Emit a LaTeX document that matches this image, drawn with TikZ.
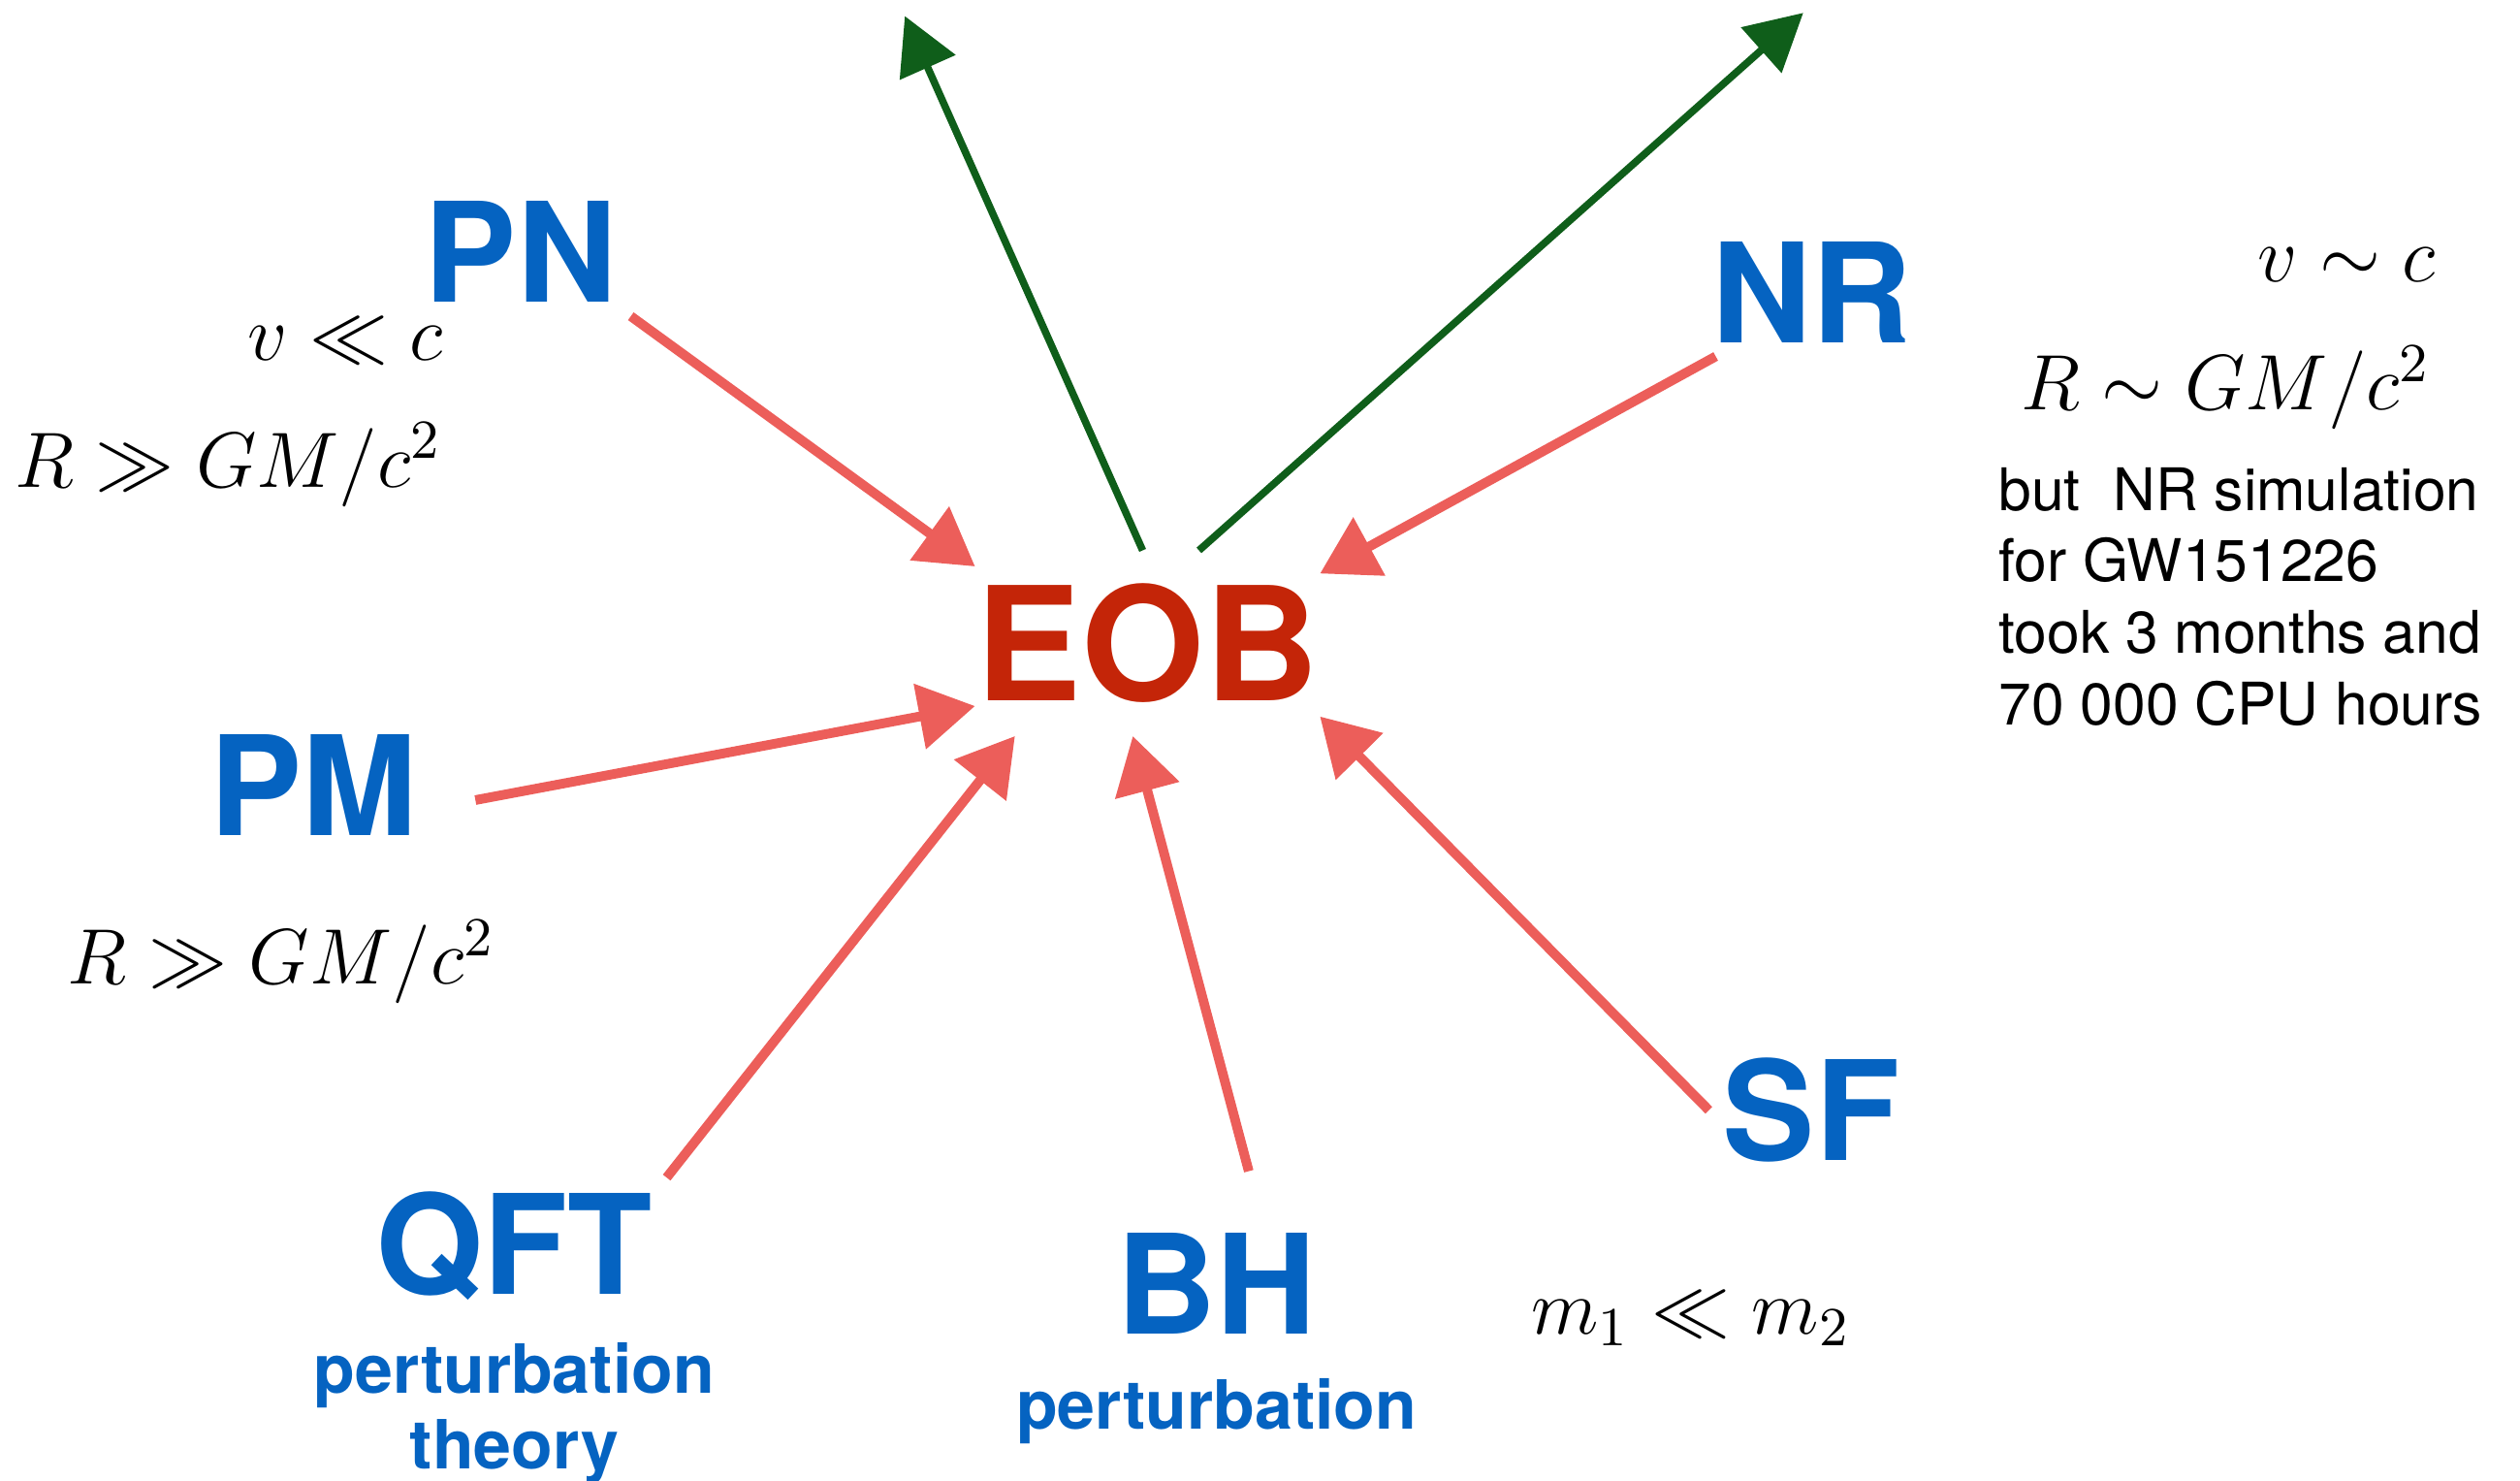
\RequirePackage{fix-cm}
\documentclass[tikz,border=0pt]{standalone}
\usepackage{amsmath}
\usepackage{fontspec}
\newfontfamily\helv{TeX Gyre Heros}
\usepackage{tikz}
\usetikzlibrary{positioning, arrows.meta}
\definecolor{eob_red}{HTML}{C42508}
\definecolor{label_blue}{HTML}{0563C1}
\definecolor{arrow_red}{HTML}{EC5E5A}
\definecolor{arrow_green}{HTML}{0F5E1A}
\tikzstyle{method} = [text=label_blue, font=\helv\bfseries\fontsize{24.5}{24.5}\selectfont, inner sep=0.08cm, anchor=base]
\tikzstyle{core} = [text=eob_red, font=\helv\bfseries\fontsize{28}{28}\selectfont, inner xsep=0pt, inner ysep=0.2cm, anchor=base]
\tikzstyle{subtitle} = [text=label_blue, font=\helv\bfseries\fontsize{12}{13.4}\selectfont, inner sep=0pt, align=center]
\tikzstyle{regime} = [font=\fontsize{13.9}{16}\selectfont, inner sep=0pt, anchor=base]
\tikzstyle{inflow} = [line width=1.7pt, arrow_red, -{Triangle[length=3.5mm, width=4mm]}]
\tikzstyle{outflow} = [line width=1.3pt, arrow_green, -{Triangle[length=3.5mm, width=3.7mm]}]

\begin{document}
\begin{tikzpicture}
        \useasboundingbox (0,0) rectangle (15.68,-9.21);
        \node (eob) [core] at (7.14,-4.36) {EOB};
        \node (pn) [method] at (3.24,-1.88) {PN};
        \node (nr) [method] at (11.27,-2.13) {NR};
        \node (pm) [method] at (1.95,-5.20) {PM};
        \node (qft) [method] at (3.20,-8.05) {QFT};
        \node (bh) [method] at (7.57,-8.30) {BH};
        \node (sf) [method] at (11.27,-7.22) {SF};
        \node (qft_sub) [subtitle, below=0.17cm of qft] {perturbation\\theory};
        \node (bh_sub) [subtitle, below=0.18cm of bh] {perturbation};
        % validity regimes
        \node (pn_v) [regime] at (2.15,-2.24) {$v \ll c$};
        \node (pn_r) [regime] at (1.42,-3.03) {$R \gg GM/c^2$};
        \node (pm_r) [regime] at (1.75,-6.12) {$R \gg GM/c^2$};
        \node (nr_v) [regime] at (14.60,-1.75) {$v \sim c$};
        \node (nr_r) [regime] at (13.85,-2.55) {$R \sim GM/c^2$};
        \node (sf_m) [regime] at (10.52,-8.30) {$m_1 \ll m_2$};
        \node (nr_note) [anchor=north west, inner sep=0pt, align=left, font=\helv\fontsize{10.4}{12.66}\selectfont] at (12.43,-2.90) {but\ \ NR simulation\\for GW151226\\took 3 months and\\70 000 CPU hours};
        \coordinate (out_left) at (5.63,-0.10);
        \coordinate (out_right) at (11.22,-0.08);
        \draw [inflow] (pn.south east) -- (eob.156);
        \draw [inflow] (nr.214) -- (eob.22);
        \draw [inflow, shorten <=2.8mm] (pm.-11) -- (eob.200);
        \draw [inflow] (qft.north east) -- (eob.215);
        \draw [inflow] ([shift={(2mm,3mm)}]bh.north) -- (eob.261);
        \draw [inflow] (sf.west) -- (eob.337);
        \draw [outflow] (eob.93) -- (out_left);
        \draw [outflow] (eob.61) -- (out_right);
    \end{tikzpicture}
\end{document}
